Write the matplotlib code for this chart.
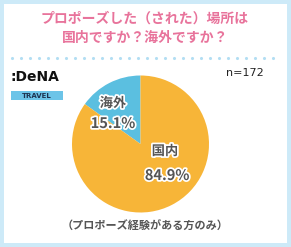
import matplotlib
matplotlib.use("Agg")
import matplotlib.pyplot as plt
import matplotlib.patheffects as pe
from matplotlib.patches import Rectangle

plt.rcParams["font.family"] = ["Noto Sans CJK JP", "DejaVu Sans"]

title_lines = ["プロポーズした（された）場所は", "国内ですか？海外ですか？"]
labels = ["海外", "国内"]
shares = [15.1, 84.9]
colors = ["#5bbfe0", "#f7b538"]
sample_note = "n=172"
footnote = "（プロポーズ経験がある方のみ）"

W, H = 291, 247
fig = plt.figure(figsize=(W / 100, H / 100), dpi=100)


def pixel_axes(zorder):
    ax = fig.add_axes([0, 0, 1, 1], zorder=zorder)
    ax.set_xlim(0, W)
    ax.set_ylim(H, 0)
    ax.axis("off")
    ax.patch.set_alpha(0)
    return ax


# background layer in pixel coordinates
bg = pixel_axes(0)
bg.add_patch(Rectangle((0, 0), W, H, facecolor="#cdeaf8", edgecolor="none"))
bg.add_patch(Rectangle((4, 4), W - 8, H - 8, facecolor="white", edgecolor="none"))

pink = "#e8739b"
bg.text(145, 19, title_lines[0], ha="center", va="center", fontsize=10,
        fontweight="bold", color=pink)
bg.text(145, 38, title_lines[1], ha="center", va="center", fontsize=10,
        fontweight="bold", color=pink)

dot_x = [12 + 9 * i for i in range(30)]
bg.scatter(dot_x, [58] * len(dot_x), s=5, color="#b3def3", linewidths=0)

# logo
bg.text(11, 77, ":DeNA", ha="left", va="center", fontsize=10, fontweight="bold",
        color="#111111", family="DejaVu Sans")
bg.add_patch(Rectangle((11, 91), 52, 9, facecolor="#6cc4e8", edgecolor="none"))
bg.text(37, 95.5, "TRAVEL", ha="center", va="center", fontsize=5,
        fontweight="bold", color="#1d3350", family="DejaVu Sans")

bg.text(245, 73, sample_note, ha="center", va="center", fontsize=8,
        color="#222222", family="DejaVu Sans")
bg.text(145, 226, footnote, ha="center", va="center", fontsize=8,
        fontweight="bold", color="#555555")

# pie
cx, cy, r = 140.5, 144, 68.5
pie_ax = fig.add_axes([(cx - r) / W, (H - cy - r) / H, 2 * r / W, 2 * r / H],
                      zorder=1)
pie_ax.pie(shares, colors=colors, startangle=90, counterclock=True,
           wedgeprops={"linewidth": 0})
pie_ax.set_xlim(-1, 1)
pie_ax.set_ylim(-1, 1)
pie_ax.set_aspect("equal")
pie_ax.axis("off")

# labels on top of the pie
top = pixel_axes(2)
stroke = [pe.withStroke(linewidth=2.5, foreground="white")]
label_pos = [(113, 103, 113, 123), (165, 151, 167, 175)]
for lab, val, (lx, ly, vx, vy) in zip(labels, shares, label_pos):
    t1 = top.text(lx, ly, lab, ha="center", va="center", fontsize=9.5,
                  fontweight="bold", color="#555555")
    t2 = top.text(vx, vy, f"{val:.1f}%", ha="center", va="center", fontsize=10.5,
                  fontweight="bold", color="#555555")
    t1.set_path_effects(stroke)
    t2.set_path_effects(stroke)

fig.savefig("out.png", dpi=100)
